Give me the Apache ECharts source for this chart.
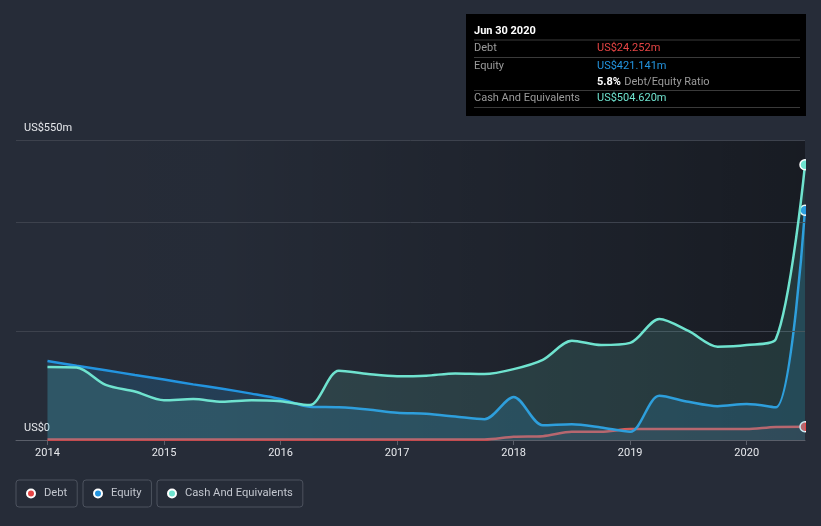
<!DOCTYPE html>
<html>
<head>
<meta charset="utf-8">
<script src="https://cdn.jsdelivr.net/npm/echarts@6/dist/echarts.min.js"></script>
<style>
html,body{margin:0;padding:0;background:#262c38;}
#chart{width:821px;height:526px;}
</style>
</head>
<body>
<div id="chart"></div>
<script>
// Quarterly dates as decimal years
const dates = [2014.0, 2014.25, 2014.5, 2014.75, 2015.0, 2015.25, 2015.5, 2015.75, 2016.0, 2016.25, 2016.5, 2016.75, 2017.0, 2017.25, 2017.5, 2017.75, 2018.0, 2018.25, 2018.5, 2018.75, 2019.0, 2019.25, 2019.5, 2019.75, 2020.0, 2020.25, 2020.5];
const debt = [1, 1, 1, 1, 1, 1, 1, 1, 1, 1, 1, 1, 1, 1, 1, 1, 6, 7, 15, 15, 20, 20, 20, 20, 20, 24, 24.252];
const equity = [145, 136, 128, 119, 111, 102, 94, 85, 75, 61, 60, 56, 50, 48, 43, 38, 79, 27, 29, 23, 15, 81, 70, 62, 66, 60, 421.141];
const cash = [134, 133, 101, 89, 73, 75, 70, 73, 71, 64, 127, 121, 117, 118, 122, 121, 130, 147, 182, 174, 178, 222, 200, 171, 174, 185, 504.62];
const yearTicks = [2014, 2015, 2016, 2017, 2018, 2019, 2020];
const yLabelValues = [0, 550];
const gridValues = [200, 400, 550];
const tipTitle = 'Jun 30 2020';
const tipDebt = 'US$24.252m';
const tipEquity = 'US$421.141m';
const tipRatio = '5.8%';
const tipCash = 'US$504.620m';

const RED = '#e64545', BLUE = '#2394df', TEAL = '#6fe3cf', BG = '#262c38';
const FONT = 'Roboto, "Noto Sans", sans-serif';

function pairs(vals){ return dates.map((d,i)=>[d, vals[i]]); }
const last = dates.length - 1;

function lineSeries(name, vals, color, areaOpacity, z){
  return {
    name, type:'line', data: pairs(vals), smooth:0.3, z,
    symbol:'circle', showSymbol:true, showAllSymbol:true,
    symbolSize:(v,p)=> p.dataIndex===last ? 10 : 0,
    itemStyle:{color, borderColor:'#ffffff', borderWidth:1.5},
    lineStyle:{color, width:2.5},
    areaStyle: {color, opacity:areaOpacity},
    emphasis:{disabled:true},
    clip:true
  };
}

const chart = echarts.init(document.getElementById('chart'));
const legendBase = {
  top:480, icon:'circle', itemWidth:8, itemHeight:8, itemGap:0,
  borderColor:'#4c525e', borderWidth:1, borderRadius:3, padding:[7,10,7,10],
  textStyle:{color:'#c3c7cf', fontSize:11.2, fontFamily:FONT, padding:[0,0,0,4], lineHeight:13}, selectedMode:false
};
const series = [
  lineSeries('Debt', debt, RED, 0.08, 3),
  lineSeries('Equity', equity, BLUE, 0.18, 4),
  lineSeries('Cash And Equivalents', cash, TEAL, 0.14, 5)
];
series[0].markLine = {
  silent:true, symbol:'none', label:{show:false},
  lineStyle:{color:'#3d424d', width:1, type:'solid'},
  data: gridValues.map(v=>({yAxis:v}))
};
chart.setOption({
  backgroundColor:BG,
  animation:false,
  grid:{left:16, right:16, top:140, bottom:86, show:true, borderWidth:0,
    backgroundColor:new echarts.graphic.LinearGradient(0,0,1,0,[
      {offset:0, color:'rgba(0,0,0,0)'},
      {offset:0.25, color:'rgba(0,0,0,0.02)'},
      {offset:1, color:'rgba(0,0,0,0.38)'}
    ])},
  xAxis:{
    type:'value', min:2013.73, max:2020.5,
    axisLine:{show:true, lineStyle:{color:'#5a5f6a', width:1}},
    axisTick:{show:true, length:5, lineStyle:{color:'#5a5f6a'}, customValues:yearTicks},
    axisLabel:{color:'#e6e8ec', fontSize:11, fontFamily:FONT, margin:8, customValues:yearTicks,
      formatter:v=>String(Math.round(v))},
    splitLine:{show:false}
  },
  yAxis:{
    type:'value', min:0, max:550,
    axisLine:{show:false}, axisTick:{show:false}, splitLine:{show:false},
    axisLabel:{inside:true, color:'#e6e8ec', fontSize:11, fontFamily:FONT, margin:8,
      verticalAlign:'bottom', padding:[0,0,6,0], customValues:yLabelValues,
      formatter:v=> v===0 ? 'US$0' : 'US$'+v+'m'}
  },
  legend:[
    Object.assign({}, legendBase, {left:16, data:['Debt']}),
    Object.assign({}, legendBase, {left:83, data:['Equity']}),
    Object.assign({}, legendBase, {left:157, data:['Cash And Equivalents']})
  ],
  series,
  graphic:[
    {type:'rect', z:100, shape:{x:806, y:125, width:15, height:320}, style:{fill:BG}},
    {type:'group', left:466, top:14, children:[
      {type:'rect', shape:{x:0,y:0,width:340,height:102}, style:{fill:'#000000'}},
      {type:'text', x:8, y:17, style:{text:tipTitle, fill:'#ffffff', font:'bold 11px '+FONT, verticalAlign:'middle'}},
      {type:'line', shape:{x1:8,y1:26,x2:334,y2:26}, style:{stroke:'#3a3a3a', lineWidth:1}},
      {type:'text', x:8, y:34, style:{text:'Debt', fill:'#9b9b9b', font:'11px '+FONT, verticalAlign:'middle'}},
      {type:'text', x:131, y:34, style:{text:tipDebt, fill:RED, font:'11px '+FONT, verticalAlign:'middle'}},
      {type:'line', shape:{x1:8,y1:43.5,x2:334,y2:43.5}, style:{stroke:'#3a3a3a', lineWidth:1}},
      {type:'text', x:8, y:52, style:{text:'Equity', fill:'#9b9b9b', font:'11px '+FONT, verticalAlign:'middle'}},
      {type:'text', x:131, y:52, style:{text:tipEquity, fill:BLUE, font:'11px '+FONT, verticalAlign:'middle'}},
      {type:'text', x:131, y:68, style:{text:'{b|'+tipRatio+'} {g|Debt/Equity Ratio}', verticalAlign:'middle',
        rich:{b:{fill:'#ffffff', font:'bold 11px '+FONT}, g:{fill:'#9b9b9b', font:'11px '+FONT}}}},
      {type:'line', shape:{x1:8,y1:76.5,x2:334,y2:76.5}, style:{stroke:'#3a3a3a', lineWidth:1}},
      {type:'text', x:8, y:84, style:{text:'Cash And Equivalents', fill:'#9b9b9b', font:'11px '+FONT, verticalAlign:'middle'}},
      {type:'text', x:131, y:84, style:{text:tipCash, fill:TEAL, font:'11px '+FONT, verticalAlign:'middle'}},
      {type:'line', shape:{x1:8,y1:93.5,x2:334,y2:93.5}, style:{stroke:'#3a3a3a', lineWidth:1}}
    ]}
  ]
});
</script>
</body>
</html>
